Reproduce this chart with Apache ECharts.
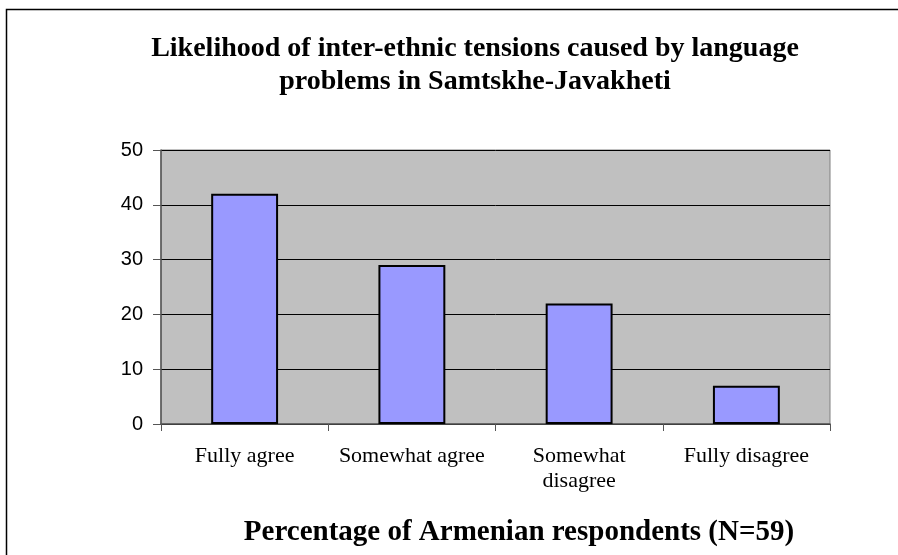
<!DOCTYPE html>
<html>
<head>
<meta charset="utf-8">
<script src="https://cdn.jsdelivr.net/npm/echarts@6/dist/echarts.min.js"></script>
<style>
  html, body { margin: 0; padding: 0; background: #fff; }
  #chart { width: 898px; height: 555px; }
</style>
</head>
<body>
<div id="chart"></div>
<script>
// Survey answers and shares (%)
const categories = ['Fully agree', 'Somewhat agree', 'Somewhat\ndisagree', 'Fully disagree'];
const values = [42, 29, 22, 7];
const yTicks = { min: 0, max: 50, interval: 10 };
const titleText = 'Likelihood of inter-ethnic tensions caused by language\nproblems in Samtskhe-Javakheti';
const axisTitle = 'Percentage of Armenian respondents (N=59)';

const chart = echarts.init(document.getElementById('chart'), null, { renderer: 'canvas' });
chart.setOption({
  animation: false,
  backgroundColor: '#ffffff',
  title: {
    text: titleText,
    left: 475,
    top: 32,
    padding: 0,
    textAlign: 'center',
    textStyle: {
      fontFamily: 'Liberation Serif',
      fontWeight: 'bold',
      fontSize: 28,
      lineHeight: 33,
      color: '#000'
    }
  },
  graphic: [
    {
      type: 'rect',
      shape: { x: 6.5, y: 9.5, width: 1000, height: 600 },
      style: { fill: 'none', stroke: '#000', lineWidth: 1.5 },
      silent: true
    },
    {
      type: 'text',
      style: {
        text: axisTitle,
        x: 519,
        y: 533,
        textAlign: 'center',
        textVerticalAlign: 'middle',
        font: 'bold 29px "Liberation Serif"',
        fill: '#000'
      },
      silent: true
    }
  ],
  grid: {
    left: 161,
    right: 898 - 830,
    top: 150,
    bottom: 555 - 424,
    show: true,
    backgroundColor: '#c0c0c0',
    borderColor: '#808080',
    borderWidth: 1
  },
  xAxis: {
    type: 'category',
    data: categories,
    axisLine: { show: true, lineStyle: { color: '#555', width: 1.5 } },
    axisTick: { show: true, alignWithLabel: false, length: 7, lineStyle: { color: '#555' } },
    axisLabel: {
      interval: 0,
      fontFamily: 'Liberation Serif',
      fontSize: 22,
      color: '#000',
      margin: 20,
      lineHeight: 25
    },
    splitLine: { show: false }
  },
  yAxis: {
    type: 'value',
    min: yTicks.min,
    max: yTicks.max,
    interval: yTicks.interval,
    axisLine: { show: true, lineStyle: { color: '#555', width: 1.5 } },
    axisTick: { show: true, length: 8, lineStyle: { color: '#555' } },
    axisLabel: {
      fontFamily: 'Liberation Sans',
      fontSize: 20,
      color: '#000',
      margin: 18
    },
    splitLine: { show: true, lineStyle: { color: '#000', width: 1 } }
  },
  series: [{
    type: 'bar',
    data: values,
    barWidth: '40%',
    itemStyle: {
      color: '#9999ff',
      borderColor: '#000',
      borderWidth: 2
    }
  }]
});
</script>
</body>
</html>
